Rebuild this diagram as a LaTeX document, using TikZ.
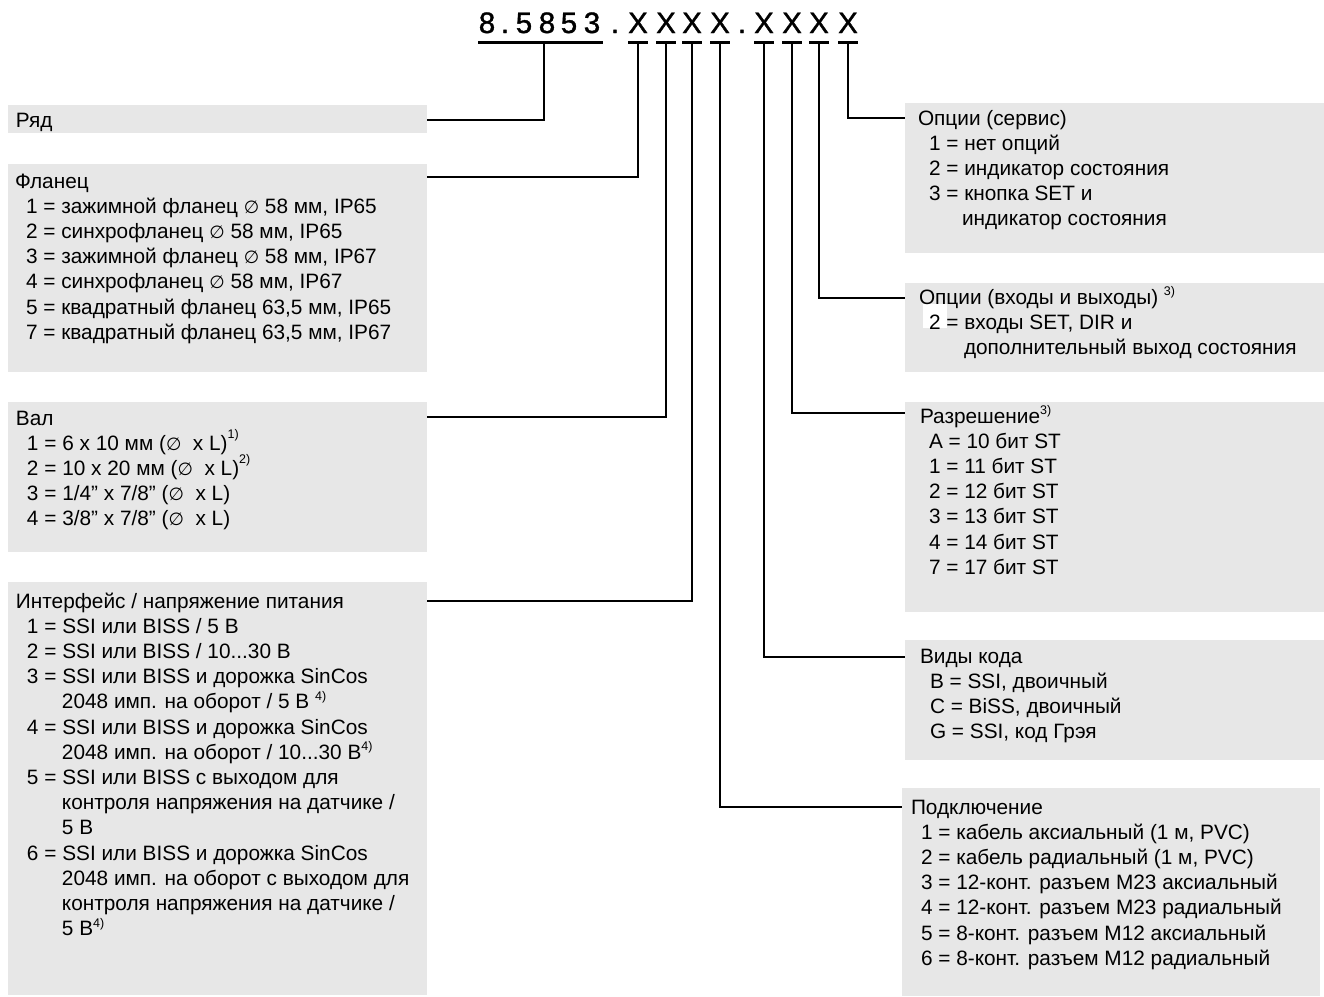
\documentclass[tikz,border=0pt]{standalone}
\usepackage{fontspec}
\setmainfont{Liberation Sans}
\newfontfamily\symf{DejaVu Sans}[Scale=0.85]
\newfontfamily\codef{Liberation Sans}[FakeBold=1.2]
\definecolor{boxgray}{RGB}{231,231,231}
\newcommand{\dia}{{\symf ∅}}
\newcommand{\fnote}[1]{\smash{\raisebox{0.4em}{\fontsize{12.5}{12.5}\selectfont #1}}}
\newcommand{\hfnote}[1]{\smash{\raisebox{0.58em}{\fontsize{12.5}{12.5}\selectfont #1}}}
\newcommand{\indA}{\hspace*{11pt}}
\newcommand{\indB}{\hspace*{46pt}}
\begin{document}
\begin{tikzpicture}[x=1pt,y=-1pt,
  box/.style={fill=boxgray, draw=none, anchor=north west, inner sep=0pt, outer sep=0pt},
  txt/.style={anchor=base west, inner sep=0pt, outer sep=0pt, font=\fontsize{20.8}{25.2}\selectfont},
  codech/.style={anchor=base, inner sep=0pt, font=\codef\fontsize{29.5}{30}\selectfont},
  conn/.style={line width=2.7pt},
  uline/.style={line width=3pt}]
\useasboundingbox[fill=white] (0,0) rectangle (1324,996);

% ---- code characters
\node[codech] (c1)  at (487,33) {8};
\node[codech] (c2)  at (505,33) {.};
\node[codech] (c3)  at (524,33) {5};
\node[codech] (c4)  at (547,33) {8};
\node[codech] (c5)  at (569,33) {5};
\node[codech] (c6)  at (592,33) {3};
\node[codech] (c7)  at (615,33) {.};
\node[codech] (x1)  at (638,33) {X};
\node[codech] (x2)  at (666,33) {X};
\node[codech] (x3)  at (692,33) {X};
\node[codech] (x4)  at (720,33) {X};
\node[codech] (c12) at (742,33) {.};
\node[codech] (x5)  at (764,33) {X};
\node[codech] (x6)  at (792,33) {X};
\node[codech] (x7)  at (819,33) {X};
\node[codech] (x8)  at (848,33) {X};

% underline anchor points
\coordinate (u0) at (544,42);
\coordinate (ua) at (478,42);
\coordinate (ub) at (603,42);
\foreach \i/\xx in {1/638,2/666,3/692,4/720,5/764,6/792,7/819,8/848}{
  \coordinate (u\i) at (\xx,42);
  \draw[uline] ([xshift=-10pt]u\i) -- ([xshift=10pt]u\i);
}
\draw[uline] (ua) -- (ub);

% ---- left boxes
\node[box, minimum width=419pt, minimum height=28pt]  (ryad) at (8,105) {};
\node[box, minimum width=419pt, minimum height=208pt] (flan) at (8,164) {};
\node[box, minimum width=419pt, minimum height=150pt] (val)  at (8,402) {};
\node[box, minimum width=419pt, minimum height=413pt] (intf) at (8,582) {};

% ---- right boxes
\node[box, minimum width=419pt, minimum height=150pt] (serv) at (905,103) {};
\node[box, minimum width=419pt, minimum height=89pt]  (io)   at (905,283) {};
\node[box, minimum width=419pt, minimum height=210pt] (res)  at (905,402) {};
\node[box, minimum width=419pt, minimum height=120pt] (code) at (905,640) {};
\node[box, minimum width=418pt, minimum height=208pt] (conn) at (902,788) {};
% white patch behind the option digit
\fill[white] (923,304) rectangle (947,328);

% ---- texts left
\node[txt] (ryadT) at (16,127) {Ряд};
\node[txt] (flanT) at (15,188) {\begin{tabular}[t]{@{}l@{}}
Фланец\\
\indA 1 = зажимной фланец \dia\ 58 мм, IP65\\
\indA 2 = синхрофланец \dia\ 58 мм, IP65\\
\indA 3 = зажимной фланец \dia\ 58 мм, IP67\\
\indA 4 = синхрофланец \dia\ 58 мм, IP67\\
\indA 5 = квадратный фланец 63,5 мм, IP65\\
\indA 7 = квадратный фланец 63,5 мм, IP67
\end{tabular}};
\node[txt] (valT) at (16,425) {\begin{tabular}[t]{@{}l@{}}
Вал\\
\indA 1 = 6 x 10 мм (\dia\ \ x L)\hfnote{1)}\\
\indA 2 = 10 x 20 мм (\dia\ \ x L)\hfnote{2)}\\
\indA 3 = 1/4” x 7/8” (\dia\ \ x L)\\
\indA 4 = 3/8” x 7/8” (\dia\ \ x L)
\end{tabular}};
\node[txt] (intfT) at (16,608) {\begin{tabular}[t]{@{}l@{}}
Интерфейс / напряжение питания\\
\indA 1 = SSI или BISS / 5 В\\
\indA 2 = SSI или BISS / 10...30 В\\
\indA 3 = SSI или BISS и дорожка SinCos\\
\indB 2048 имп. на оборот / 5 В \fnote{4)}\\
\indA 4 = SSI или BISS и дорожка SinCos\\
\indB 2048 имп. на оборот / 10...30 В\fnote{4)}\\
\indA 5 = SSI или BISS с выходом для\\
\indB контроля напряжения на датчике /\\
\indB 5 В\\
\indA 6 = SSI или BISS и дорожка SinCos\\
\indB 2048 имп. на оборот с выходом для\\
\indB контроля напряжения на датчике /\\
\indB 5 В\fnote{4)}
\end{tabular}};

% ---- texts right
\node[txt] (servT) at (918,125) {\begin{tabular}[t]{@{}l@{}}
Опции (сервис)\\
\indA 1 = нет опций\\
\indA 2 = индикатор состояния\\
\indA 3 = кнопка SET и\\
\hspace*{44pt}индикатор состояния
\end{tabular}};
\node[txt] (ioT) at (919,304) {\begin{tabular}[t]{@{}l@{}}
Опции (входы и выходы) \fnote{3)}\\
\hspace*{10pt}2 = входы SET, DIR и\\
\hspace*{45pt}дополнительный выход состояния
\end{tabular}};
\node[txt] (resT) at (920,423) {\begin{tabular}[t]{@{}l@{}}
Разрешение\fnote{3)}\\
\hspace*{9pt}A = 10 бит ST\\
\hspace*{9pt}1 = 11 бит ST\\
\hspace*{9pt}2 = 12 бит ST\\
\hspace*{9pt}3 = 13 бит ST\\
\hspace*{9pt}4 = 14 бит ST\\
\hspace*{9pt}7 = 17 бит ST
\end{tabular}};
\node[txt] (codeT) at (920,663) {\begin{tabular}[t]{@{}l@{}}
Виды кода\\
\hspace*{10pt}B = SSI, двоичный\\
\hspace*{10pt}C = BiSS, двоичный\\
\hspace*{10pt}G = SSI, код Грэя
\end{tabular}};
\node[txt] (connT) at (911,814) {\begin{tabular}[t]{@{}l@{}}
Подключение\\
\hspace*{10pt}1 = кабель аксиальный (1 м, PVC)\\
\hspace*{10pt}2 = кабель радиальный (1 м, PVC)\\
\hspace*{10pt}3 = 12-конт. разъем M23 аксиальный\\
\hspace*{10pt}4 = 12-конт. разъем M23 радиальный\\
\hspace*{10pt}5 = 8-конт. разъем M12 аксиальный\\
\hspace*{10pt}6 = 8-конт. разъем M12 радиальный
\end{tabular}};

% ---- connectors
\draw[conn] (u0) |- ([yshift=-15pt]ryad.north east);
\draw[conn] (u1) |- ([yshift=-13pt]flan.north east);
\draw[conn] (u2) |- ([yshift=-15pt]val.north east);
\draw[conn] (u3) |- ([yshift=-19pt]intf.north east);
\draw[conn] (u4) |- ([yshift=-19pt]conn.north west);
\draw[conn] (u5) |- ([yshift=-17pt]code.north west);
\draw[conn] (u6) |- ([yshift=-11pt]res.north west);
\draw[conn] (u7) |- ([yshift=-15pt]io.north west);
\draw[conn] (u8) |- ([yshift=-15pt]serv.north west);
\end{tikzpicture}
\end{document}
